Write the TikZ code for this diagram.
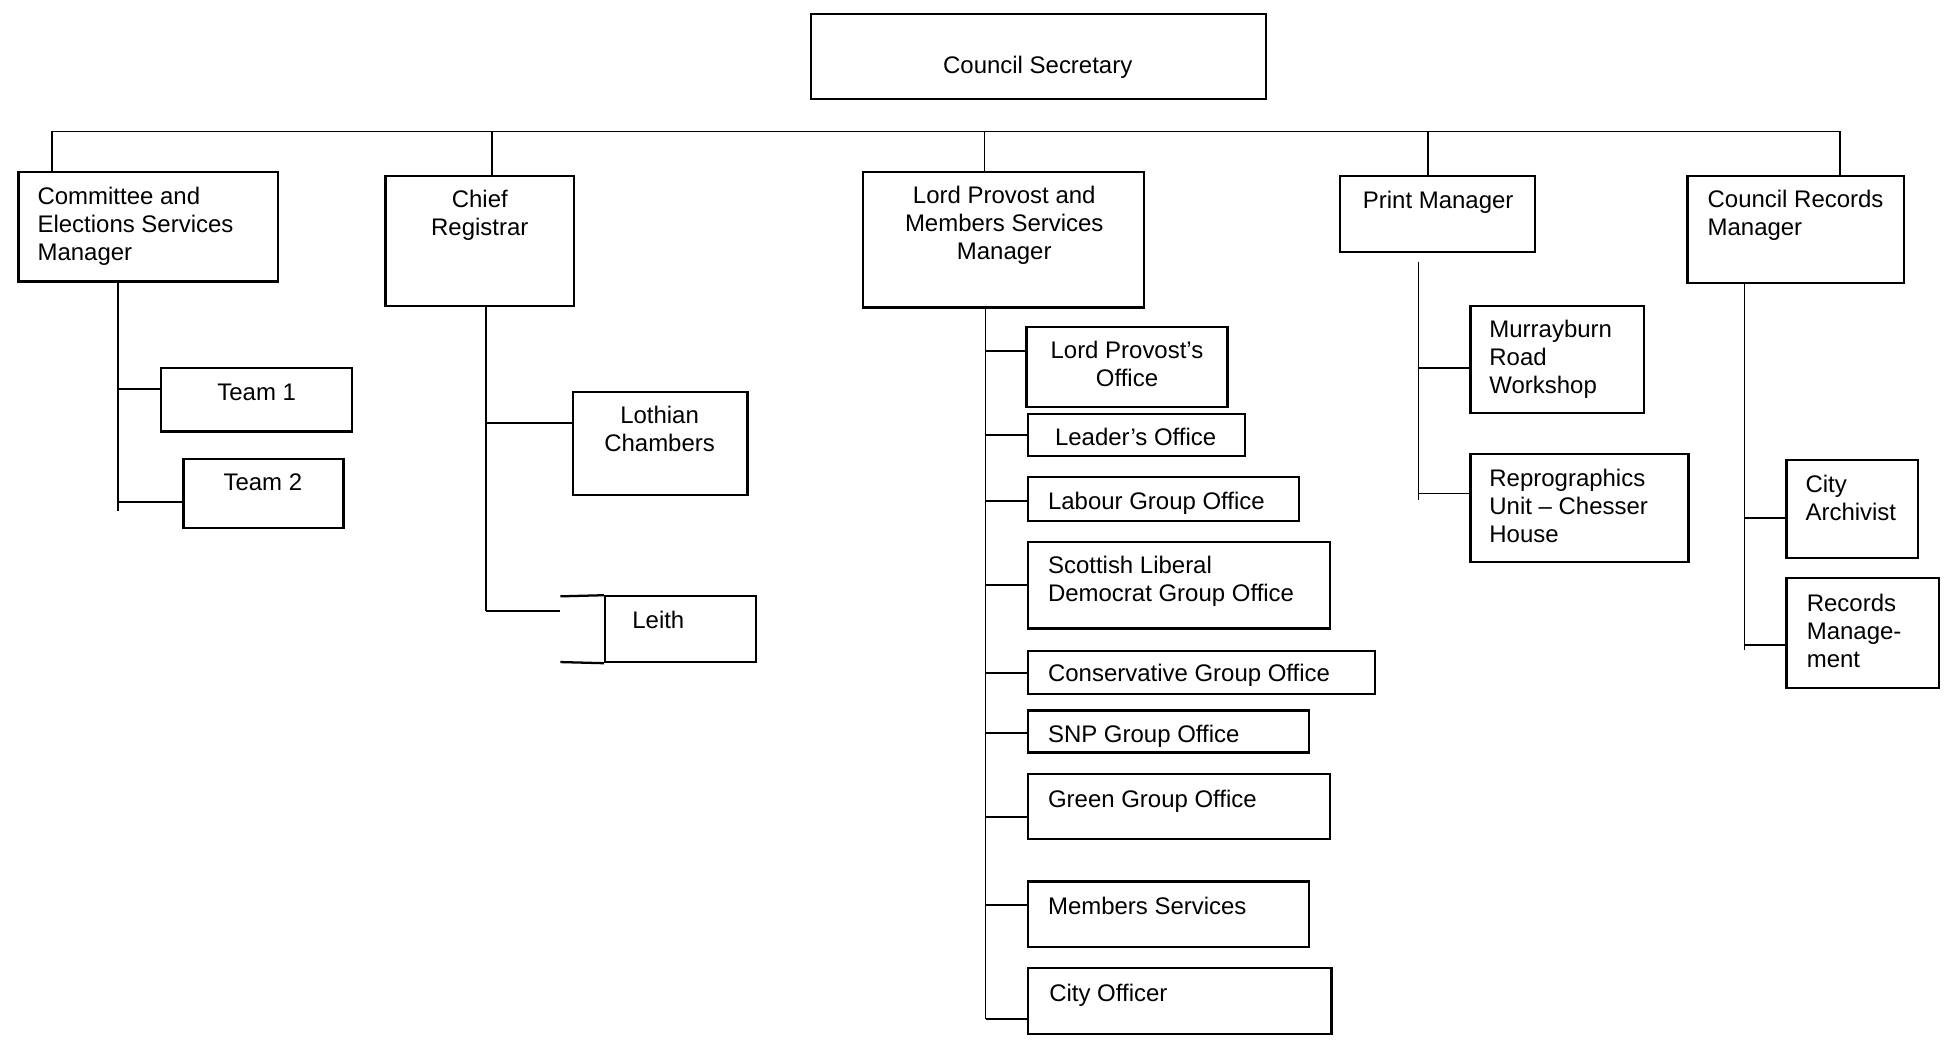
\documentclass[tikz,border=0pt]{standalone}
\usepackage{fontspec}
\setmainfont{Liberation Sans}
\usetikzlibrary{fit}

\tikzset{
  box/.style={draw, line width=1.1pt, inner sep=0pt},
  txt/.style={inner sep=0pt, font=\fontsize{11.6}{13.5}\selectfont},
  conn/.style={line width=0.8pt},
}

\begin{document}
\begin{tikzpicture}[x=0.6pt,y=-0.6pt]
\useasboundingbox (0,0) rectangle (1568,841);

% top level
\node[box, fit={(654,11) (1021,80)}] (cs) {};
\node[txt, anchor=base] (cstxt) at (837,59) {Council Secretary};

% managers
\node[box, fit={(15,139) (224,227)}] (cesm) {};
\node[txt, anchor=north west, align=left] (cesmtxt) at (30,151) {Committee and\\Elections Services\\Manager};
\node[box, fit={(311,142) (463,247)}] (chief) {};
\node[txt, anchor=north, align=center] (chieftxt) at (387,153) {Chief\\Registrar};
\node[box, fit={(696,139) (923,248)}] (lpms) {};
\node[txt, anchor=north, align=center] (lpmstxt) at (810,150) {Lord Provost and\\Members Services\\Manager};
\node[box, fit={(1081,142) (1238,203)}] (print) {};
\node[txt, anchor=base] (printtxt) at (1160,168) {Print Manager};
\node[box, fit={(1361,142) (1536,228)}] (crm) {};
\node[txt, anchor=north west, align=left] (crmtxt) at (1377,153) {Council Records\\Manager};

% bus
\draw[conn] (42,106) -- (1484,106);
\draw[conn] (42,106) -- (42,106 |- cesm.north);
\draw[conn] (397,106) -- (397,106 |- chief.north);
\draw[conn] (794,106) -- (794,106 |- lpms.north);
\draw[conn] (1152,106) -- (1152,106 |- print.north);
\draw[conn] (1484,106) -- (1484,106 |- crm.north);

% committee and elections
\node[box, fit={(130,297) (284,348)}] (team1) {};
\node[txt, anchor=base] (team1txt) at (207,323) {Team 1};
\node[box, fit={(148,370) (277,426)}] (team2) {};
\node[txt, anchor=base] (team2txt) at (212,396) {Team 2};
\draw[conn] (95,0 |- cesm.south) -- (95,412);
\draw[conn] (95,314) -- (95,314 -| team1.west);
\draw[conn] (95,405) -- (95,405 -| team2.west);

% chief registrar
\node[box, fit={(462,316) (603,399)}] (lothian) {};
\node[txt, anchor=north, align=center] (lothiantxt) at (532,327) {Lothian\\Chambers};
\node[box, fit={(488,481) (610,534)}] (leith) {};
\node[txt, anchor=base] (leithtxt) at (531,507) {Leith};
\draw[box] (452,481) -- (leith.north west);
\draw[box] (452,534) -- (leith.south west);
\draw[conn] (392,0 |- chief.south) -- (392,493);
\draw[conn] (392,341) -- (392,341 -| lothian.west);
\draw[conn] (392,493) -- (452,493);

% lord provost and members
\node[box, fit={(828,264) (990,328)}] (lpo) {};
\node[txt, anchor=north, align=center] (lpotxt) at (909,275) {Lord Provost’s\\Office};
\node[box, fit={(829,334) (1004,368)}] (leader) {};
\node[txt, anchor=base] (leadertxt) at (916,359) {Leader’s Office};
\node[box, fit={(829,385) (1048,420)}] (labour) {};
\node[txt, anchor=base west] (labourtxt) at (845,411) {Labour Group Office};
\node[box, fit={(829,437) (1073,507)}] (libdem) {};
\node[txt, anchor=north west, align=left] (libdemtxt) at (845,448) {Scottish Liberal\\Democrat Group Office};
\node[box, fit={(829,525) (1109,560)}] (cons) {};
\node[txt, anchor=base west] (constxt) at (845,550) {Conservative Group Office};
\node[box, fit={(829,573) (1056,607)}] (snp) {};
\node[txt, anchor=base west] (snptxt) at (845,599) {SNP Group Office};
\node[box, fit={(829,624) (1073,677)}] (green) {};
\node[txt, anchor=base west] (greentxt) at (845,651) {Green Group Office};
\node[box, fit={(829,711) (1056,764)}] (members) {};
\node[txt, anchor=base west] (memberstxt) at (845,738) {Members Services};
\node[box, fit={(829,781) (1074,834)}] (cityoff) {};
\node[txt, anchor=base west] (cityofftxt) at (846,808) {City Officer};
\draw[conn] (795,0 |- lpms.south) -- (795,822);
\draw[conn] (795,283) -- (795,283 -| lpo.west);
\draw[conn] (795,351) -- (795,351 -| leader.west);
\draw[conn] (795,404) -- (795,404 -| labour.west);
\draw[conn] (795,472) -- (795,472 -| libdem.west);
\draw[conn] (795,543) -- (795,543 -| cons.west);
\draw[conn] (795,591) -- (795,591 -| snp.west);
\draw[conn] (795,659) -- (795,659 -| green.west);
\draw[conn] (795,730) -- (795,730 -| members.west);
\draw[conn] (795,822) -- (795,822 -| cityoff.west);

% print manager
\node[box, fit={(1186,247) (1326,333)}] (murray) {};
\node[txt, anchor=north west, align=left] (murraytxt) at (1201,258) {Murrayburn\\Road\\Workshop};
\node[box, fit={(1186,366) (1362,453)}] (repro) {};
\node[txt, anchor=north west, align=left] (reprotxt) at (1201,378) {Reprographics\\Unit – Chesser\\House};
\draw[conn] (1144,211) -- (1144,403);
\draw[conn] (1144,297) -- (1144,297 -| murray.west);
\draw[conn] (1144,398) -- (1144,398 -| repro.west);

% council records
\node[box, fit={(1441,371) (1547,450)}] (archivist) {};
\node[txt, anchor=north west, align=left] (archivisttxt) at (1456,383) {City\\Archivist};
\node[box, fit={(1441,466) (1564,555)}] (records) {};
\node[txt, anchor=north west, align=left] (recordstxt) at (1457,479) {Records\\Manage-\\ment};
\draw[conn] (1407,0 |- crm.south) -- (1407,524);
\draw[conn] (1407,418) -- (1407,418 -| archivist.west);
\draw[conn] (1407,520) -- (1407,520 -| records.west);
\end{tikzpicture}
\end{document}
